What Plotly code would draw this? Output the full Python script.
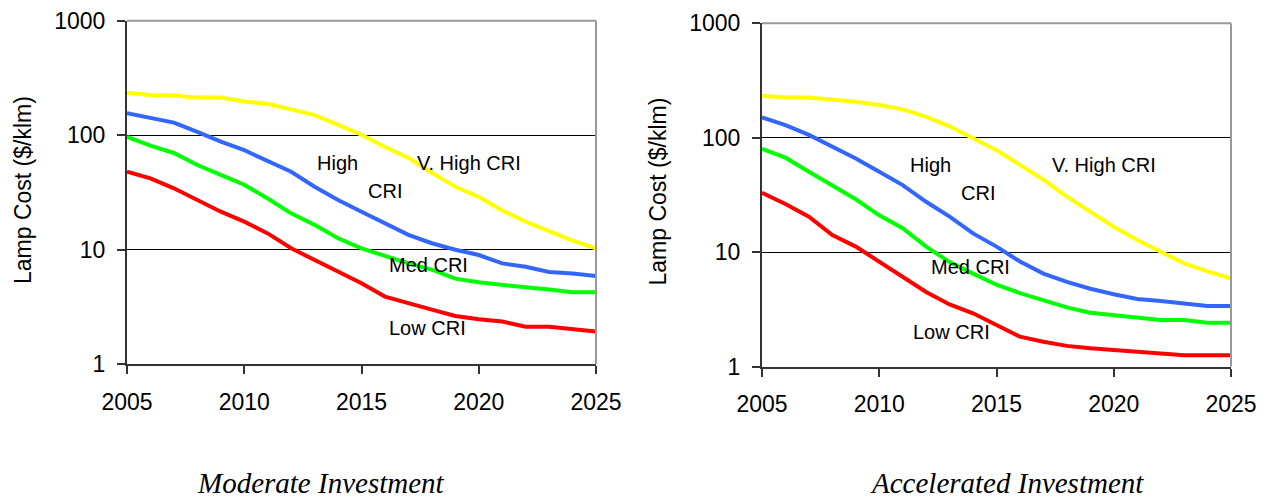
import numpy as np
import plotly.graph_objects as go

years = list(range(2005, 2026))

# Moderate Investment
vhigh_mod = [235, 225, 222, 213, 213, 197, 188, 167, 150, 123, 101, 79, 63.5, 47, 35.5, 29, 22, 17.6, 14.4, 12, 10.3]
high_mod = [156, 141, 129, 107, 88, 74, 59, 48, 35.5, 27.2, 21.5, 17, 13.5, 11.4, 10, 9.0, 7.6, 7.1, 6.4, 6.2, 5.9]
med_mod = [97, 81, 70, 55, 45, 37, 28, 20.8, 16.5, 12.6, 10.3, 8.8, 7.6, 6.7, 5.6, 5.2, 4.9, 4.7, 4.5, 4.25, 4.25]
low_mod = [48, 42, 34.4, 27.2, 21.5, 17.6, 13.9, 10.3, 8.1, 6.5, 5.1, 3.9, 3.4, 3.0, 2.64, 2.47, 2.36, 2.13, 2.13, 2.02, 1.93]

# Accelerated Investment
vhigh_acc = [233, 225, 225, 216, 206, 193, 177, 152, 126, 99, 78, 58, 43, 30.6, 22.6, 16.7, 12.8, 10.1, 8.0, 6.8, 5.9]
high_acc = [151, 129, 106, 84, 66, 50.5, 38.6, 27.6, 20.5, 14.6, 11.2, 8.3, 6.5, 5.5, 4.8, 4.3, 3.9, 3.75, 3.6, 3.39, 3.39]
med_acc = [80, 67, 50.5, 38.6, 29, 21, 16.2, 11.2, 8.2, 6.5, 5.2, 4.4, 3.8, 3.3, 2.96, 2.83, 2.7, 2.56, 2.56, 2.42, 2.42]
low_acc = [33, 26.4, 20.4, 14.1, 11.2, 8.3, 6.1, 4.5, 3.5, 2.93, 2.31, 1.83, 1.65, 1.52, 1.45, 1.4, 1.35, 1.28, 1.26, 1.26, 1.26]

series_names = ["V. High CRI", "High CRI", "Med CRI", "Low CRI"]
colors = ["#FFFF00", "#3366FF", "#00FF00", "#FF0000"]
y_title = "Lamp Cost ($/klm)"
panel_titles = ["Moderate Investment", "Accelerated Investment"]

# page body has an 8px default margin: size the figure to fill the rest of the window
OFF = 8
W, H = 1269 - OFF, 498 - OFF
fig = go.Figure()

panels = [
    ("x", "y", [vhigh_mod, high_mod, med_mod, low_mod]),
    ("x2", "y2", [vhigh_acc, high_acc, med_acc, low_acc]),
]
for xa, ya, data in panels:
    for name, col, vals in zip(series_names, colors, data):
        fig.add_trace(go.Scatter(x=years, y=vals, mode="lines", name=name,
                                 line=dict(color=col, width=4), xaxis=xa, yaxis=ya,
                                 showlegend=False))

# plot-area geometry in window pixels
plot_px = [(127, 596, 20.7, 364.3), (762, 1231, 23.3, 366.7)]
tick_font = dict(family="Arial, Liberation Sans, sans-serif", size=23, color="black")

def px_x(v):
    return (v - OFF) / W

def px_y(v):
    return (H - (v - OFF)) / H

def xdom(a, b):
    return [px_x(a), px_x(b)]

def ydom(top, bot):
    return [px_y(bot), px_y(top)]

axis_common_x = dict(range=[2005, 2025], tickmode="array", tickvals=[2005, 2010, 2015, 2020, 2025],
                     showline=True, linecolor="#333333", linewidth=2, ticks="outside", ticklen=8,
                     tickwidth=1.5, tickcolor="#333333", showgrid=False, zeroline=False,
                     tickfont=tick_font, ticklabelstandoff=8, automargin=False,
                     ticklabeloverflow="allow")
axis_common_y = dict(type="log", range=[0, 3], tickmode="array", tickvals=[1, 10, 100, 1000],
                     ticktext=["1", "10", "100", "1000"],
                     showline=True, linecolor="#333333", linewidth=2, ticks="outside", ticklen=8,
                     tickwidth=1.5, tickcolor="#333333", showgrid=True, gridcolor="black",
                     gridwidth=1, zeroline=False, tickfont=tick_font, ticklabelstandoff=7,
                     automargin=False, ticklabeloverflow="allow")

(a1, b1, t1, bt1), (a2, b2, t2, bt2) = plot_px
fig.update_layout(
    width=W, height=H, margin=dict(l=0, r=0, t=0, b=0, autoexpand=False),
    paper_bgcolor="white", plot_bgcolor="white",
    xaxis=dict(domain=xdom(a1, b1), anchor="y", **axis_common_x),
    yaxis=dict(domain=ydom(t1, bt1), anchor="x", **axis_common_y),
    xaxis2=dict(domain=xdom(a2, b2), anchor="y2", **axis_common_x),
    yaxis2=dict(domain=ydom(t2, bt2), anchor="x2", **axis_common_y),
)

# gray top/right frame (paper-referenced so nothing clips it)
for (l, r, t, b) in plot_px:
    fig.add_shape(type="line", xref="paper", yref="paper", x0=px_x(l), x1=px_x(r),
                  y0=px_y(t), y1=px_y(t), line=dict(color="#999999", width=2))
    fig.add_shape(type="line", xref="paper", yref="paper", x0=px_x(r), x1=px_x(r),
                  y0=px_y(b), y1=px_y(t), line=dict(color="#999999", width=2))

# in-plot labels
lab_font = dict(family="Arial, Liberation Sans, sans-serif", size=20, color="black")
labels = [
    ("x", "y", [("High", 2013.96, 57.3), ("CRI", 2016.02, 32.8), ("V. High CRI", 2019.6, 57.3),
                ("Med CRI", 2017.86, 7.36), ("Low CRI", 2017.81, 2.07)]),
    ("x2", "y2", [("High", 2012.19, 57.8), ("CRI", 2014.21, 33.1), ("V. High CRI", 2019.6, 57.8),
                  ("Med CRI", 2013.87, 7.47), ("Low CRI", 2013.08, 2.02)]),
]
for xr, yr, items in labels:
    for txt, xv, yv in items:
        fig.add_annotation(x=xv, y=np.log10(yv), xref=xr, yref=yr, text=txt, showarrow=False,
                           font=lab_font, xanchor="center", yanchor="middle")

# y-axis titles
for xc, yc in [(23, 190), (657, 191.5)]:
    fig.add_annotation(x=px_x(xc), y=px_y(yc), xref="paper", yref="paper", text=y_title,
                       textangle=-90, showarrow=False, font=tick_font,
                       xanchor="center", yanchor="middle")

# bottom panel titles
for txt, xc, yc in [(panel_titles[0], 321, 483), (panel_titles[1], 1007, 483)]:
    fig.add_annotation(x=px_x(xc), y=px_y(yc), xref="paper", yref="paper", text=f"<i>{txt}</i>",
                       showarrow=False,
                       font=dict(family="Times New Roman, Liberation Serif, serif", size=29, color="black"),
                       xanchor="center", yanchor="middle")

fig.write_html("out.html")
